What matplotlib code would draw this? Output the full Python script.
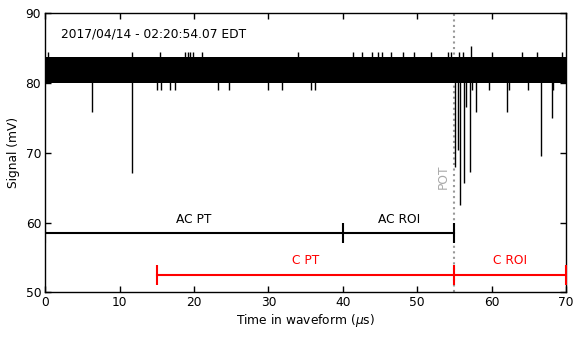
import matplotlib
matplotlib.use("Agg")
import matplotlib.pyplot as plt

# ---- data ----
x_range = [0, 70]
band_low = 80.0          # lower edge of the dense noise band (mV)
band_high = 83.7         # upper edge of the dense noise band (mV)

# small upward excursions above the band
up_times = [0.4, 11.6, 15.4, 18.8, 19.2, 19.5, 19.9, 21.1, 34.0, 41.4, 42.6, 43.9,
            44.7, 45.2, 46.5, 48.1, 49.6, 51.9, 54.1, 54.6, 55.6, 56.2, 57.2, 60.1,
            64.1, 66.1, 69.4]
up_values = [84.5, 84.5, 84.5, 84.5, 84.5, 84.5, 84.5, 84.5, 84.5, 84.5, 84.5, 84.5,
             84.5, 84.5, 84.5, 84.5, 84.5, 84.5, 84.5, 84.5, 84.5, 84.5, 85.3, 84.5,
             84.5, 84.5, 84.5]

# downward excursions / pulses below the band
down_times = [6.3, 11.6, 15.0, 15.5, 16.8, 17.4, 23.2, 24.7, 30.0, 31.8, 35.7, 36.2,
              55.05, 55.5, 55.8, 56.3, 56.6, 57.06, 57.4, 57.9, 59.6, 62.1, 62.3,
              64.9, 66.6, 68.1, 68.3]
down_values = [75.85, 67.15, 79.0, 79.0, 79.0, 79.0, 79.0, 79.0, 79.0, 79.0, 79.0, 79.0,
               67.9, 70.4, 62.5, 65.7, 76.6, 67.25, 79.0, 75.85, 79.0, 75.85, 79.0,
               79.0, 69.6, 75.0, 79.0]

timestamp = "2017/04/14 - 02:20:54.07 EDT"
pot_time = 55

ac_edges = [0, 40, 55]
ac_level = 58.5
ac_labels = ["AC PT", "AC ROI"]
c_edges = [15, 55, 70]
c_level = 52.5
c_labels = ["C PT", "C ROI"]

x_ticks = [0, 10, 20, 30, 40, 50, 60, 70]
y_ticks = [50, 60, 70, 80, 90]

FS = 8.8

# ---- figure ----
plt.rcParams['font.family'] = ['DejaVu Sans']
plt.rcParams['mathtext.fontset'] = 'dejavusans'
fig = plt.figure(figsize=(5.81, 3.39), dpi=100)
ax = fig.add_axes([45.3 / 581, 1 - 292.3 / 339, (566 - 45.3) / 581, (292.3 - 13.3) / 339])

ax.axvline(pot_time, color='#999999', ls=':', lw=1.5, zorder=1)

ax.fill_between(x_range, band_low, band_high, color='black', lw=0, zorder=2)
ax.vlines(up_times, band_high - 0.5, up_values, color='black', lw=1.0, zorder=2)
ax.vlines(down_times, down_values, band_low + 0.5, color='black', lw=1.0, zorder=2)

ax.plot(ac_edges, [ac_level] * len(ac_edges), color='black', lw=1.5,
        marker='|', ms=15, mew=1.5, zorder=3)
ax.plot(c_edges, [c_level] * len(c_edges), color='red', lw=1.5,
        marker='|', ms=15, mew=1.5, zorder=3)

for i, lab in enumerate(ac_labels):
    ax.text((ac_edges[i] + ac_edges[i + 1]) / 2, ac_level + 2.0, lab,
            ha='center', va='center', fontsize=FS, color='black')
for i, lab in enumerate(c_labels):
    ax.text((c_edges[i] + c_edges[i + 1]) / 2, c_level + 2.0, lab,
            ha='center', va='center', fontsize=FS, color='red')

ax.text(pot_time - 0.6, 66.5, "POT", rotation=90, ha='right', va='center',
        fontsize=FS, color='#aaaaaa')
ax.text(2.1, 87.1, timestamp, ha='left', va='center', fontsize=FS)

ax.set_xlim(0, 70)
ax.set_ylim(50, 90)
ax.set_xticks(x_ticks)
ax.set_yticks(y_ticks)
ax.tick_params(direction='in', top=True, right=True, length=4, width=1,
               labelsize=FS, pad=3)
for s in ax.spines.values():
    s.set_linewidth(1.0)
ax.set_xlabel(r"Time in waveform ($\mu$s)", fontsize=FS, labelpad=2)
ax.set_ylabel("Signal (mV)", fontsize=FS, labelpad=4)

fig.savefig("out.png", dpi=100)
